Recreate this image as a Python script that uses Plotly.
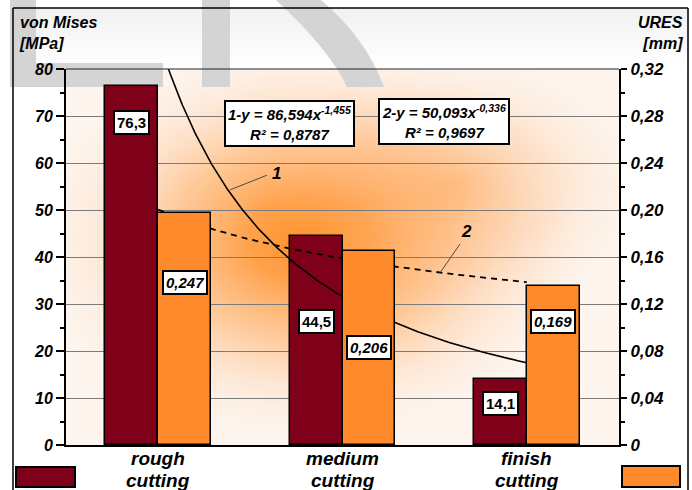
import base64
import numpy as np
import plotly.graph_objects as go

# ---- data -------------------------------------------------------------
categories = ["rough<br>cutting", "medium<br>cutting", "finish<br>cutting"]
von_mises = [76.3, 44.5, 14.1]          # MPa
ures = [0.247, 0.206, 0.169]            # mm
von_mises_text = ["76,3", "44,5", "14,1"]
ures_text = ["0,247", "0,206", "0,169"]

# power-law trend lines  y = a * x^b  (x = 1, 2, 3 for the three cuts)
trend1_a, trend1_b, trend1_r2 = 86.594, -1.455, 0.8787
trend2_a, trend2_b, trend2_r2 = 50.093, -0.336, 0.9697

left_tickvals = [0, 10, 20, 30, 40, 50, 60, 70, 80]
right_tickvals = [0, 0.04, 0.08, 0.12, 0.16, 0.20, 0.24, 0.28, 0.32]
right_ticktext = ["0", "0,04", "0,08", "0,12", "0,16", "0,20", "0,24", "0,28", "0,32"]

# ---- geometry / styling -----------------------------------------------
W, H = 692, 490
ML, MR, MT, MB = 66, 73, 69, 45
PW, PH = W - ML - MR, H - MT - MB

DARK = "#7e0019"
ORANGE = "#ff8a2c"
FONT = "Liberation Sans, Arial, sans-serif"
BAR_W = 0.287


def fx(px):
    return (px - ML) / PW


def fy(py):
    return (H - MB - py) / PH


def comma(v, nd):
    return f"{v:.{nd}f}".replace(".", ",")


fig = go.Figure()

fig.add_trace(go.Bar(
    x=[0, 1, 2], y=von_mises, width=BAR_W, offset=-BAR_W,
    marker=dict(color=DARK, line=dict(color="black", width=1.5)),
    yaxis="y", showlegend=False, hoverinfo="y"))
fig.add_trace(go.Bar(
    x=[0, 1, 2], y=ures, width=BAR_W, offset=0,
    marker=dict(color=ORANGE, line=dict(color="black", width=1.5)),
    yaxis="y3", showlegend=False, hoverinfo="y"))

t = np.linspace(1, 3, 241)
fig.add_trace(go.Scatter(
    x=t - 1, y=trend1_a * t ** trend1_b, mode="lines",
    line=dict(color="black", width=1.6), yaxis="y", showlegend=False,
    hoverinfo="skip"))
fig.add_trace(go.Scatter(
    x=t - 1, y=trend2_a * t ** trend2_b, mode="lines",
    line=dict(color="black", width=1.8, dash="6px,5px"), yaxis="y",
    showlegend=False, hoverinfo="skip"))

tick_font = dict(family=FONT, size=16, color="black", weight="bold", style="italic")

fig.update_layout(
    width=W, height=H,
    margin=dict(l=ML, r=MR, t=MT, b=MB, pad=0, autoexpand=False),
    paper_bgcolor="white",
    plot_bgcolor="rgba(0,0,0,0)",
    barmode="overlay",
    bargap=0,
    xaxis=dict(
        range=[-0.5, 2.5], tickmode="array", tickvals=[0, 1, 2],
        showticklabels=False,
        showline=True, linecolor="black", linewidth=2, ticks="", showgrid=False,
        zeroline=False, fixedrange=True, automargin=False),
    yaxis=dict(
        range=[0, 80], tickmode="array", tickvals=left_tickvals,
        showline=True, linecolor="black", linewidth=2,
        ticks="outside", ticklen=8, tickwidth=2, tickcolor="black",
        showgrid=True, gridcolor="#7a7a7a", gridwidth=1, zeroline=False,
        minor=dict(dtick=5, tick0=0, ticks="outside", ticklen=4, tickwidth=2,
                   tickcolor="black", showgrid=False),
        tickfont=tick_font, fixedrange=True, automargin=False),
    yaxis2=dict(
        overlaying="y", side="right", range=[0, 0.32], tickmode="array",
        tickvals=right_tickvals, ticktext=right_ticktext,
        showline=True, linecolor="black", linewidth=2,
        ticks="outside", ticklen=6, tickwidth=2, tickcolor="black",
        showgrid=False, zeroline=False,
        minor=dict(dtick=0.02, tick0=0, ticks="outside", ticklen=4, tickwidth=2,
                   tickcolor="black", showgrid=False),
        tickfont=dict(family=FONT, size=17, color="black", weight="bold", style="italic"),
        fixedrange=True, automargin=False),
    yaxis3=dict(overlaying="y", range=[0, 0.4], visible=False, fixedrange=True),
)

# an invisible trace keeps the right-hand URES axis drawn
fig.add_trace(go.Scatter(x=[0], y=[0], yaxis="y2", mode="lines",
                         showlegend=False, hoverinfo="skip",
                         line=dict(color="rgba(0,0,0,0)")))

# ---- category labels under each bar pair -------------------------------
cat_font = dict(family=FONT, size=19, color="black", weight="bold", style="italic")
for i, cat in enumerate(categories):
    for k, line in enumerate(cat.split("<br>")):
        fig.add_annotation(x=i, xref="x", yref="paper", y=fy(459 + 21 * k),
                           text=line, font=cat_font, showarrow=False,
                           xanchor="center", yanchor="middle")

# ---- background glow ---------------------------------------------------
svg = f"""<svg xmlns="http://www.w3.org/2000/svg" width="{W}" height="{H}" viewBox="0 0 {W} {H}">
<defs>
<linearGradient id="top" x1="0" y1="0" x2="0" y2="1">
<stop offset="0" stop-color="#f1f1f1"/><stop offset="1" stop-color="#ffffff"/>
</linearGradient>
<radialGradient id="g1">
<stop offset="0" stop-color="#ff8616" stop-opacity="0.92"/>
<stop offset="0.22" stop-color="#ff9028" stop-opacity="0.82"/>
<stop offset="0.5" stop-color="#ffa757" stop-opacity="0.55"/>
<stop offset="0.78" stop-color="#ffcba2" stop-opacity="0.25"/>
<stop offset="1" stop-color="#ffe6d4" stop-opacity="0"/>
</radialGradient>
<radialGradient id="g2">
<stop offset="0" stop-color="#ff9a3e" stop-opacity="0.45"/>
<stop offset="0.55" stop-color="#ffb070" stop-opacity="0.22"/>
<stop offset="1" stop-color="#ffd6b4" stop-opacity="0"/>
</radialGradient>
<clipPath id="pa"><rect x="{ML}" y="{MT}" width="{PW}" height="{PH}"/></clipPath>
</defs>
<rect x="13" y="8" width="675" height="61" fill="url(#top)"/>
<rect x="{ML}" y="{MT}" width="{PW}" height="{PH}" fill="#fdf5ee"/>
<g clip-path="url(#pa)">
<ellipse cx="310" cy="240" rx="280" ry="200" fill="url(#g1)"/>
<ellipse cx="455" cy="185" rx="190" ry="130" fill="url(#g2)"/>
</g>
</svg>"""
fig.add_layout_image(dict(
    source="data:image/svg+xml;base64," + base64.b64encode(svg.encode()).decode(),
    xref="paper", yref="paper", x=fx(0), y=fy(0), sizex=W / PW, sizey=H / PH,
    xanchor="left", yanchor="top", sizing="stretch", layer="below"))

# ---- faint grey lettering behind the top of the chart ------------------
GREY = "#d4d4d4"
for x0, y0, x1, y1 in [(10, 0, 36, 87), (36, 63, 163, 87), (202, 0, 230, 87)]:
    fig.add_shape(type="rect", xref="paper", yref="paper",
                  x0=fx(x0), x1=fx(x1), y0=fy(y1), y1=fy(y0),
                  fillcolor=GREY, line_width=0, layer="below")
stroke = (f"M {fx(276)},{fy(0)} Q {fx(330)},{fy(50)} {fx(347)},{fy(87)} "
          f"L {fx(384)},{fy(87)} Q {fx(366)},{fy(38)} {fx(321)},{fy(0)} Z")
fig.add_shape(type="path", xref="paper", yref="paper", path=stroke,
              fillcolor=GREY, line_width=0, layer="below")

# ---- outer frame -------------------------------------------------------
for x0, y0, x1, y1 in [(13, 8, 13, 500), (13, 8, 688, 8), (688, 8, 688, 500)]:
    fig.add_shape(type="line", xref="paper", yref="paper",
                  x0=fx(x0), y0=fy(y0), x1=fx(x1), y1=fy(y1),
                  line=dict(color="black", width=1.5))

# top edge of the plotting area
fig.add_shape(type="line", xref="paper", yref="paper", x0=0, x1=1, y0=1, y1=1,
              line=dict(color="#222222", width=1))

# ---- legend keys -------------------------------------------------------
for (x0, y0, x1, y1), col in [((16, 467, 75, 487), DARK), ((622, 466, 680, 487), ORANGE)]:
    fig.add_shape(type="rect", xref="paper", yref="paper",
                  x0=fx(x0), x1=fx(x1), y0=fy(y1), y1=fy(y0),
                  fillcolor=col, line=dict(color="black", width=2))

# ---- axis titles -------------------------------------------------------
title_font = dict(family=FONT, size=16, color="black", weight="bold", style="italic")
fig.add_annotation(text="von Mises<br>[MPa]", xref="paper", yref="paper",
                   x=fx(17), y=fy(12), xanchor="left", yanchor="top",
                   align="left", showarrow=False, font=title_font)
fig.add_annotation(text="URES<br>[mm]", xref="paper", yref="paper",
                   x=fx(685), y=fy(12), xanchor="right", yanchor="top",
                   align="right", showarrow=False, font=title_font)

# ---- value labels ------------------------------------------------------
box = dict(bgcolor="white", bordercolor="black", borderwidth=2, borderpad=2,
           showarrow=False)
dark_label_y = [68.7, 26.2, 8.9]
orange_label_y = [34.5, 20.7, 26.2]
for i in range(3):
    fig.add_annotation(x=i - BAR_W / 2, y=dark_label_y[i], text=von_mises_text[i],
                       font=dict(family=FONT, size=15, color="black", weight="bold"),
                       **box)
    fig.add_annotation(x=i + BAR_W / 2, y=orange_label_y[i], text=ures_text[i],
                       font=dict(family=FONT, size=15, color="black", weight="bold",
                                 style="italic"), **box)

# ---- trend equations ---------------------------------------------------
eq_font = dict(family=FONT, size=15, color="black", weight="bold", style="italic")
eq1 = (f"1-y = {comma(trend1_a, 3)}x<sup>{comma(trend1_b, 3)}</sup><br>"
       f"R² = {comma(trend1_r2, 4)}")
eq2 = (f"2-y = {comma(trend2_a, 3)}x<sup>{comma(trend2_b, 3)}</sup><br>"
       f"R² = {comma(trend2_r2, 4)}")
fig.add_annotation(x=0.711, y=68.5, text=eq1, font=eq_font, bgcolor="white",
                   bordercolor="black", borderwidth=2, borderpad=2, showarrow=False)
fig.add_annotation(x=1.552, y=68.8, text=eq2, font=eq_font, bgcolor="white",
                   bordercolor="black", borderwidth=2, borderpad=2, showarrow=False)

# ---- curve callouts ----------------------------------------------------
num_font = dict(family=FONT, size=17, color="black", weight="bold", style="italic")
fig.add_shape(type="line", x0=0.391, y0=54.3, x1=0.590, y1=57.4,
              line=dict(color="#4a4a4a", width=1))
fig.add_shape(type="line", x0=1.530, y0=36.7, x1=1.638, y1=42.8,
              line=dict(color="#4a4a4a", width=1))
fig.add_annotation(x=0.640, y=57.7, text="1", font=num_font, showarrow=False)
fig.add_annotation(x=1.675, y=45.4, text="2", font=num_font, showarrow=False)

fig.write_html("out.html")
